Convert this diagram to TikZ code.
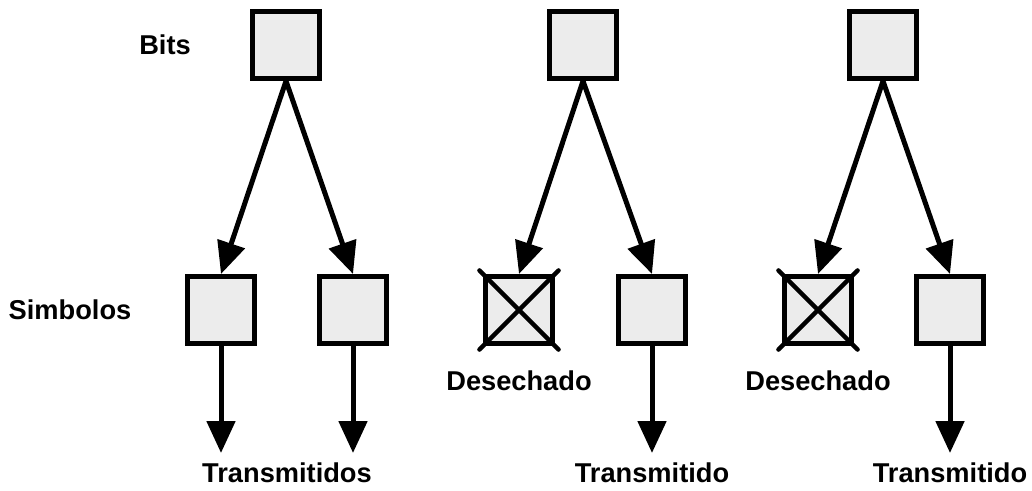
\documentclass[tikz,border=0pt]{standalone}
\usepackage{fontspec}
\setmainfont{Liberation Sans}
\usepackage{tikz}
\usetikzlibrary{arrows.meta}

\begin{document}
\begin{tikzpicture}[
  sym/.style={draw,fill=gray!15,line width=0.1cm,minimum size=1.34cm,inner sep=0pt},
  lbl/.style={font=\fontsize{15.5}{18}\selectfont\bfseries},
  arr/.style={-{Triangle[length=0.64cm,width=0.56cm]},line width=0.1cm},
  cross/.style={line width=0.09cm,line cap=round,shorten <=-0.1cm,shorten >=-0.1cm}]
  \useasboundingbox (0,0) rectangle (20.64,-9.82);
  % bits
  \node[sym](B1) at (5.72,-0.9) {};
  \node[sym](B2) at (11.66,-0.9){};
  \node[sym](B3) at (17.66,-0.9){};
  % symbols
  \node[sym](S1) at (4.42,-6.2) {};
  \node[sym](S2) at (7.06,-6.2) {};
  \node[sym](S3) at (10.38,-6.2){};
  \node[sym](S4) at (13.04,-6.2){};
  \node[sym](S5) at (16.36,-6.2){};
  \node[sym](S6) at (19.0,-6.2) {};
  % ends of the output arrows
  \coordinate(T1) at (4.42,-9.06);
  \coordinate(T2) at (7.06,-9.06);
  \coordinate(T4) at (13.04,-9.06);
  \coordinate(T6) at (19.0,-9.06);
  % labels
  \node[lbl](Lb) at (3.3,-0.9) {Bits};
  \node[lbl](Ls) at (1.4,-6.2) {Simbolos};
  \node[lbl](D3) at (10.38,-7.62){Desechado};
  \node[lbl](D5) at (16.36,-7.62){Desechado};
  \node[lbl](O1) at (5.74,-9.45) {Transmitidos};
  \node[lbl](O4) at (13.04,-9.45){Transmitido};
  \node[lbl](O6) at (19.0,-9.45) {Transmitido};
  % bits to symbols
  \draw[arr](B1.south)--(S1.north); \draw[arr](B1.south)--(S2.north);
  \draw[arr](B2.south)--(S3.north); \draw[arr](B2.south)--(S4.north);
  \draw[arr](B3.south)--(S5.north); \draw[arr](B3.south)--(S6.north);
  % symbols sent on
  \draw[arr](S1)--(T1); \draw[arr](S2)--(T2);
  \draw[arr](S4)--(T4); \draw[arr](S6)--(T6);
  % dropped symbols
  \foreach \s in {S3,S5}{
    \draw[cross](\s.north west)--(\s.south east);
    \draw[cross](\s.south west)--(\s.north east);
  }
\end{tikzpicture}
\end{document}
